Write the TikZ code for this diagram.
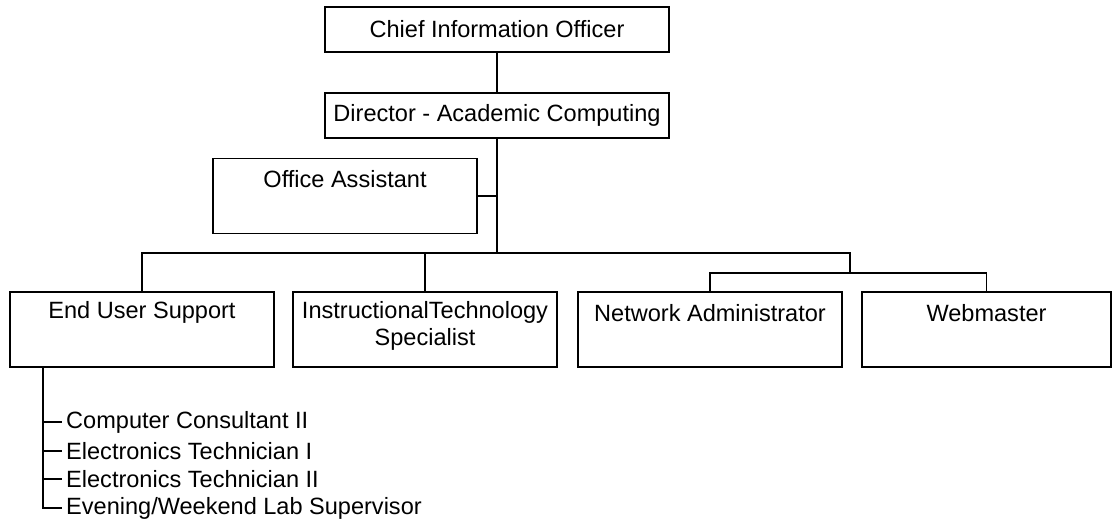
\documentclass[tikz,border=0pt]{standalone}
\usepackage{fontspec}
\setmainfont{Liberation Sans}
\usetikzlibrary{positioning}

\begin{document}
\begin{tikzpicture}[x=0.02cm, y=-0.02cm, line width=0.8pt,
    font=\fontsize{13.4}{15.3}\selectfont,
    chief/.style={draw, rectangle, inner sep=0pt, minimum width=6.88cm, minimum height=0.9cm},
    post/.style={draw, rectangle, inner sep=0pt, minimum width=5.28cm, minimum height=1.5cm},
    toptext/.style={anchor=center, align=center, yshift=-0.43cm},
    staff/.style={anchor=west, inner sep=2pt}]
\useasboundingbox (0,0) rectangle (1114,524);

% top of the chart
\node[chief] (cio) at (497,29.5) {Chief Information Officer};
\node[chief] (dir) at (497,115.5) {Director - Academic Computing};
\node[post, label={[toptext]north:Office Assistant}] (oa) at (345,196) {};

% departments
\node[post, label={[toptext]north:End User Support}] (eus) at (142,329.5) {};
\node[post, label={[toptext, yshift=-0.26cm]north:{InstructionalTechnology\\Specialist}}] (its) at (425,329.5) {};
\node[post, label={[toptext]north:Network Administrator}] (na) at (710,329.5) {};
\node[post, minimum width=4.98cm, label={[toptext]north:Webmaster}] (wm) at (986.5,329.5) {};

\coordinate (bar) at (497,253);
\coordinate (sub) at (850,273);
\coordinate (leg) at (43,367);

\draw (cio.south) -- (dir.north);
\draw (dir.south) -- (bar);
\draw (oa.east) -- (oa.east -| bar);
\draw (eus.north) -- (eus.north |- bar) -- (sub |- bar) -- (sub);
\draw (its.north) -- (its.north |- bar);
\draw (na.north) -- (na.north |- sub) -- (wm.north |- sub) -- (wm.north);

% staff under end user support
\node[staff] (cc) at (62,422) {Computer Consultant II};
\node[staff] (et1) at (62,451) {Electronics Technician I};
\node[staff] (et2) at (62,479) {Electronics Technician II};
\node[staff] (lab) at (62,508) {Evening/Weekend Lab Supervisor};
\draw (leg) |- (lab.west);
\draw (cc.west -| leg) -- (cc.west);
\draw (et1.west -| leg) -- (et1.west);
\draw (et2.west -| leg) -- (et2.west);

\end{tikzpicture}
\end{document}
